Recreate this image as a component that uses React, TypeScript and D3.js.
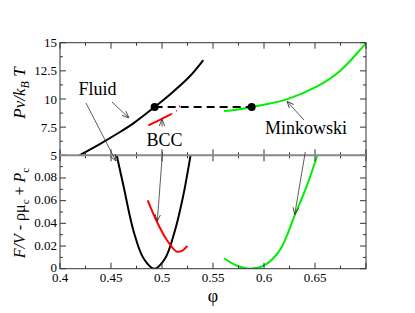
import React from "react";
import * as d3 from "d3";

// equation of state (phi, P v / kT)
const fluidEos = [
  [0.419, 5.0], [0.439, 6.0], [0.4556, 6.89], [0.4719, 7.84],
  [0.4928, 9.29], [0.511, 10.65], [0.5275, 12.04], [0.5405, 13.46],
];
const bccEos = [[0.4866, 7.66], [0.498, 8.15], [0.509, 8.65]];
const bccEosMeta = [[0.509, 8.65], [0.514, 8.95], [0.5193, 9.72]];
const minkEos = [
  [0.5608, 8.93], [0.573, 9.05], [0.5879, 9.29], [0.6222, 9.97],
  [0.6516, 11.09], [0.6745, 12.49], [0.6997, 14.95],
];
const coexP = 9.29;
const coexPhi = [0.4928, 0.5879];

// free energy (phi, F/V - rho mu_c + P_c)
const fluidFree = [
  [0.4556, 0.1], [0.462, 0.074], [0.4725, 0.032], [0.482, 0.009],
  [0.4925, 0.0], [0.503, 0.009], [0.5125, 0.033], [0.5205, 0.063], [0.528, 0.1],
];
const bccFree = [
  [0.486, 0.0602], [0.4948, 0.0418], [0.5046, 0.0255], [0.5144, 0.0151],
  [0.5195, 0.0158], [0.5248, 0.0202],
];
const minkFree = [
  [0.5608, 0.0092], [0.573, 0.0028], [0.5863, 0.0], [0.601, 0.0033],
  [0.6157, 0.0166], [0.6304, 0.0477], [0.6419, 0.0729], [0.6523, 0.1],
];

const xTickLabels = [0.4, 0.45, 0.5, 0.55, 0.6, 0.65];
const topTickLabels = [5, 7.5, 10, 12.5, 15];
const botTickLabels = [0, 0.02, 0.04, 0.06, 0.08];

export default function App() {
  const left = 60, right = 366, top = 42.7, mid = 155.3, bottom = 268.7;
  const x = d3.scaleLinear().domain([0.4, 0.7]).range([left, right]);
  const yT = d3.scaleLinear().domain([5, 15]).range([mid, top]);
  const yB = d3.scaleLinear().domain([0, 0.1]).range([bottom, mid]);

  const lineT = d3.line<number[]>().x((d) => x(d[0])).y((d) => yT(d[1])).curve(d3.curveCatmullRom);
  const lineB = d3.line<number[]>().x((d) => x(d[0])).y((d) => yB(d[1])).curve(d3.curveCatmullRom);

  const xMinor = d3.range(0.4, 0.7001, 0.025);
  const tMinor = d3.range(5, 15.001, 1.25);
  const bMinor = d3.range(0, 0.1001, 0.01);
  const isMajor = (v: number, step: number) => Math.abs(v / step - Math.round(v / step)) < 1e-6;

  const font = '"Liberation Serif", "Times New Roman", Times, serif';
  const axisCol = "#333";

  // annotation arrows: [x1, y1, x2, y2] in pixels via scales
  const arrows = [
    [x(0.451), yT(9.73), x(0.4676), yT(8.31)],
    [x(0.4255), yT(9.64), x(0.4549), yB(0.0948)],
    [x(0.5), yT(7.55), x(0.5), yT(8.2)],
    [x(0.5005), yT(5.3), x(0.4954), yB(0.0418)],
    [x(0.6392), yT(8.13), x(0.6225), yT(9.8)],
    [x(0.6405), yT(5.3), x(0.6301), yB(0.0477)],
  ];

  const ticks = [] as JSX.Element[];
  xMinor.forEach((v, i) => {
    const len = isMajor(v, 0.05) ? 6 : 3;
    const px = x(v);
    ticks.push(<line key={"xb" + i} x1={px} x2={px} y1={bottom} y2={bottom - len} />);
    ticks.push(<line key={"xt" + i} x1={px} x2={px} y1={top} y2={top + len} />);
    ticks.push(<line key={"xm" + i} x1={px} x2={px} y1={mid - len} y2={mid + len} />);
  });
  tMinor.forEach((v, i) => {
    const len = isMajor(v, 2.5) ? 6 : 3;
    const py = yT(v);
    ticks.push(<line key={"tl" + i} x1={left} x2={left + len} y1={py} y2={py} />);
    ticks.push(<line key={"tr" + i} x1={right} x2={right - len} y1={py} y2={py} />);
  });
  bMinor.forEach((v, i) => {
    const len = isMajor(v, 0.02) ? 6 : 3;
    const py = yB(v);
    ticks.push(<line key={"bl" + i} x1={left} x2={left + len} y1={py} y2={py} />);
    ticks.push(<line key={"br" + i} x1={right} x2={right - len} y1={py} y2={py} />);
  });

  return (
    <svg width={415} height={313} style={{ position: "absolute", left: 0, top: 0, background: "#fff", fontFamily: font }}>
      <defs>
        <clipPath id="cT"><rect x={left} y={top} width={right - left} height={mid - top} /></clipPath>
        <clipPath id="cB"><rect x={left} y={mid} width={right - left} height={bottom - mid} /></clipPath>
        <marker id="ah" viewBox="0 0 10 10" refX="10" refY="5" markerWidth="7" markerHeight="7" orient="auto" markerUnits="userSpaceOnUse">
          <path d="M0,1 L10,5 L0,9" fill="none" stroke="#333" strokeWidth={1.2} />
        </marker>
      </defs>

      <g clipPath="url(#cT)" fill="none" strokeWidth={2}>
        <path d={lineT(fluidEos)!} stroke="#000" />
        <path d={lineT(bccEos)!} stroke="#ff0000" />
        <path d={lineT(bccEosMeta)!} stroke="#ff0000" strokeWidth={1.2} strokeDasharray="1.5,4" />
        <path d={lineT(minkEos)!} stroke="#00ee00" />
        <line x1={x(coexPhi[0])} x2={x(coexPhi[1])} y1={yT(coexP)} y2={yT(coexP)} stroke="#000" strokeDasharray="8,5" />
      </g>
      {coexPhi.map((p, i) => (
        <circle key={i} cx={x(p)} cy={yT(coexP)} r={4} fill="#000" />
      ))}

      <g clipPath="url(#cB)" fill="none" strokeWidth={2}>
        <path d={lineB(fluidFree)!} stroke="#000" />
        <path d={lineB(bccFree)!} stroke="#ff0000" />
        <path d={lineB(minkFree)!} stroke="#00ee00" />
      </g>

      <rect x={left} y={top} width={right - left} height={bottom - top} fill="none" stroke={axisCol} strokeWidth={1} />
      <g stroke={axisCol} strokeWidth={1}>{ticks}</g>
      <line x1={left} x2={right} y1={mid} y2={mid} stroke="#888" strokeWidth={2} />

      <g stroke="#333" strokeWidth={0.8}>
        {arrows.map((a, i) => (
          <line key={i} x1={a[0]} y1={a[1]} x2={a[2]} y2={a[3]} markerEnd="url(#ah)" />
        ))}
      </g>

      <g fontSize={13} fill="#000" style={{ fontFamily: font }}>
        {xTickLabels.map((v) => (
          <text key={v} x={x(v)} y={282} textAnchor="middle">{v}</text>
        ))}
        {topTickLabels.map((v) => (
          <text key={v} x={57} y={yT(v) + 4.5} textAnchor="end">{v}</text>
        ))}
        {botTickLabels.map((v) => (
          <text key={v} x={57} y={yB(v) + 3.5} textAnchor="end">{v}</text>
        ))}
      </g>

      <g fontSize={18} fill="#000" style={{ fontFamily: font }}>
        <text x={78.5} y={95}>Fluid</text>
        <text x={146.5} y={145.5}>BCC</text>
        <text x={265} y={134}>Minkowski</text>
        <text x={213} y={302} textAnchor="middle">φ</text>
      </g>

      <text transform="translate(25,93) rotate(-90)" fontSize={17} textAnchor="middle" fontStyle="italic" style={{ fontFamily: font }}>
        Pv/k<tspan fontSize={12} dy={4}>B</tspan><tspan dy={-4}> T</tspan>
      </text>
      <text transform="translate(25,213) rotate(-90)" fontSize={16} textAnchor="middle" style={{ fontFamily: font }}>
        <tspan fontStyle="italic">F/V</tspan> - ρμ<tspan fontSize={11} dy={4}>c</tspan>
        <tspan dy={-4}> + </tspan><tspan fontStyle="italic">P</tspan><tspan fontSize={11} dy={4}>c</tspan>
      </text>
    </svg>
  );
}
